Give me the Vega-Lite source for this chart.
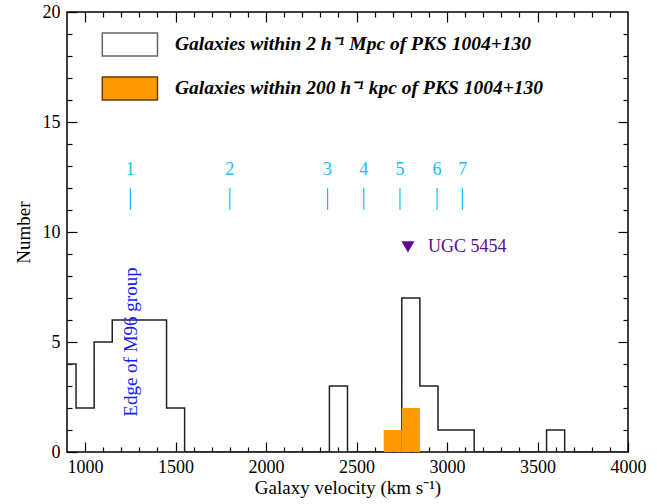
{
  "$schema": "https://vega.github.io/schema/vega-lite/v6.json",
  "width": 561,
  "height": 440,
  "autosize": {"type": "none"},
  "padding": {"left": 67, "top": 12, "right": 29, "bottom": 52},
  "background": "white",
  "config": {
    "font": "Liberation Serif",
    "view": {"stroke": "black", "strokeWidth": 1.5},
    "axis": {"grid": false, "domain": false, "tickColor": "black", "tickWidth": 1.2, "labelFont": "Liberation Serif", "titleFont": "Liberation Serif", "labelColor": "black", "titleColor": "black", "titleFontWeight": "normal", "labelFontSize": 18, "titleFontSize": 19}
  },
  "datasets": {
    "hist": [
      {"bin_start": 850, "count": 4}, {"bin_start": 950, "count": 2}, {"bin_start": 1050, "count": 5},
      {"bin_start": 1150, "count": 6}, {"bin_start": 1250, "count": 6}, {"bin_start": 1350, "count": 6},
      {"bin_start": 1450, "count": 2}, {"bin_start": 1550, "count": 0}, {"bin_start": 1650, "count": 0},
      {"bin_start": 1750, "count": 0}, {"bin_start": 1850, "count": 0}, {"bin_start": 1950, "count": 0},
      {"bin_start": 2050, "count": 0}, {"bin_start": 2150, "count": 0}, {"bin_start": 2250, "count": 0},
      {"bin_start": 2350, "count": 3}, {"bin_start": 2450, "count": 0}, {"bin_start": 2550, "count": 0},
      {"bin_start": 2650, "count": 0}, {"bin_start": 2750, "count": 7}, {"bin_start": 2850, "count": 3},
      {"bin_start": 2950, "count": 1}, {"bin_start": 3050, "count": 1}, {"bin_start": 3150, "count": 0},
      {"bin_start": 3250, "count": 0}, {"bin_start": 3350, "count": 0}, {"bin_start": 3450, "count": 0},
      {"bin_start": 3550, "count": 1}, {"bin_start": 3650, "count": 0}, {"bin_start": 3750, "count": 0},
      {"bin_start": 3850, "count": 0}, {"bin_start": 3950, "count": 0}, {"bin_start": 4050, "count": 0}
    ],
    "near": [
      {"bin_start": 2650, "bin_end": 2750, "count": 1},
      {"bin_start": 2750, "bin_end": 2850, "count": 2}
    ],
    "groups": [
      {"n": "1", "v": 1250}, {"n": "2", "v": 1800}, {"n": "3", "v": 2340},
      {"n": "4", "v": 2540}, {"n": "5", "v": 2740}, {"n": "6", "v": 2945}, {"n": "7", "v": 3085}
    ],
    "legend": [
      {"kind": "wide", "x1": 1095, "x2": 1400, "y1": 18.0, "y2": 19.05, "tx": 1497, "ty": 18.55, "label": "Galaxies within 2 h⁻¹ Mpc of PKS 1004+130"},
      {"kind": "near", "x1": 1095, "x2": 1400, "y1": 16.0, "y2": 17.05, "tx": 1497, "ty": 16.55, "label": "Galaxies within 200 h⁻¹ kpc of PKS 1004+130"}
    ],
    "ugc": [{"v": 2784, "y": 9.32, "label": "UGC 5454"}],
    "edge": [{"v": 1254, "y": 5.0, "label": "Edge of M96 group"}]
  },
  "resolve": {"axis": {"x": "independent", "y": "independent"}},
  "layer": [
    {
      "data": {"name": "hist"},
      "mark": {"type": "line", "interpolate": "step-after", "color": "#222222", "strokeWidth": 1.5, "clip": true},
      "encoding": {
        "x": {"field": "bin_start", "type": "quantitative", "scale": {"domain": [900, 4000], "nice": false, "zero": false},
          "axis": {"orient": "bottom", "title": "Galaxy velocity (km s⁻¹)", "values": [1000,1100,1200,1300,1400,1500,1600,1700,1800,1900,2000,2100,2200,2300,2400,2500,2600,2700,2800,2900,3000,3100,3200,3300,3400,3500,3600,3700,3800,3900,4000],
            "format": "d", "labelExpr": "datum.value % 500 === 0 ? datum.label : ''",
            "tickSize": {"condition": {"test": "datum.value % 500 === 0", "value": -10}, "value": -5},
            "labelPadding": 16, "titlePadding": 2, "labelFlush": false}},
        "y": {"field": "count", "type": "quantitative", "scale": {"domain": [0, 20], "nice": false},
          "axis": {"orient": "left", "title": "Number", "values": [0,1,2,3,4,5,6,7,8,9,10,11,12,13,14,15,16,17,18,19,20],
            "format": "d", "labelExpr": "datum.value % 5 === 0 ? datum.label : ''",
            "tickSize": {"condition": {"test": "datum.value % 5 === 0", "value": -10}, "value": -5},
            "labelPadding": 17, "titlePadding": 9, "labelFlush": false}}
      }
    },
    {
      "data": {"name": "near"},
      "mark": {"type": "rect", "color": "#FF9900"},
      "encoding": {
        "x": {"field": "bin_start", "type": "quantitative",
          "axis": {"orient": "top", "title": null, "labels": false, "values": [1000,1100,1200,1300,1400,1500,1600,1700,1800,1900,2000,2100,2200,2300,2400,2500,2600,2700,2800,2900,3000,3100,3200,3300,3400,3500,3600,3700,3800,3900],
            "tickSize": {"condition": {"test": "datum.value % 500 === 0", "value": -10}, "value": -5}}},
        "x2": {"field": "bin_end"},
        "y": {"field": "count", "type": "quantitative",
          "axis": {"orient": "right", "title": null, "labels": false, "values": [1,2,3,4,5,6,7,8,9,10,11,12,13,14,15,16,17,18,19],
            "tickSize": {"condition": {"test": "datum.value % 5 === 0", "value": -10}, "value": -5}}},
        "y2": {"datum": 0}
      }
    },
    {
      "data": {"name": "groups"},
      "mark": {"type": "rule", "color": "#14BEF5", "strokeWidth": 1.2},
      "encoding": {
        "x": {"field": "v", "type": "quantitative", "axis": null},
        "y": {"datum": 11, "type": "quantitative", "axis": null},
        "y2": {"datum": 12}
      }
    },
    {
      "data": {"name": "groups"},
      "mark": {"type": "text", "color": "#14BEF5", "fontSize": 18, "font": "Liberation Serif", "baseline": "middle", "align": "center"},
      "encoding": {
        "x": {"field": "v", "type": "quantitative", "axis": null},
        "y": {"datum": 12.8, "type": "quantitative", "axis": null},
        "text": {"field": "n"}
      }
    },
    {
      "data": {"name": "ugc"},
      "mark": {"type": "point", "shape": "triangle-down", "filled": true, "color": "#5B0A91", "size": 170, "opacity": 1},
      "encoding": {
        "x": {"field": "v", "type": "quantitative", "axis": null},
        "y": {"field": "y", "type": "quantitative", "axis": null}
      }
    },
    {
      "data": {"name": "ugc"},
      "mark": {"type": "text", "color": "#5B0A91", "fontSize": 18, "font": "Liberation Serif", "baseline": "middle", "align": "left", "dx": 20},
      "encoding": {
        "x": {"field": "v", "type": "quantitative", "axis": null},
        "y": {"field": "y", "type": "quantitative", "axis": null},
        "text": {"field": "label"}
      }
    },
    {
      "data": {"name": "edge"},
      "mark": {"type": "text", "color": "#1A1AFF", "fontSize": 19, "font": "Liberation Serif", "baseline": "middle", "align": "center", "angle": 270},
      "encoding": {
        "x": {"field": "v", "type": "quantitative", "axis": null},
        "y": {"field": "y", "type": "quantitative", "axis": null},
        "text": {"field": "label"}
      }
    },
    {
      "data": {"name": "legend"},
      "mark": {"type": "rect", "strokeWidth": 1.5},
      "encoding": {
        "x": {"field": "x1", "type": "quantitative", "axis": null},
        "x2": {"field": "x2"},
        "y": {"field": "y1", "type": "quantitative", "axis": null},
        "y2": {"field": "y2"},
        "fill": {"field": "kind", "type": "nominal", "scale": {"domain": ["wide", "near"], "range": ["white", "#FF9900"]}, "legend": null},
        "stroke": {"field": "kind", "type": "nominal", "scale": {"domain": ["wide", "near"], "range": ["#666666", "#6B3A00"]}, "legend": null}
      }
    },
    {
      "data": {"name": "legend"},
      "mark": {"type": "text", "color": "black", "fontSize": 19.5, "font": "Liberation Serif", "fontStyle": "italic", "fontWeight": "bold", "baseline": "middle", "align": "left"},
      "encoding": {
        "x": {"field": "tx", "type": "quantitative", "axis": null},
        "y": {"field": "ty", "type": "quantitative", "axis": null},
        "text": {"field": "label"}
      }
    }
  ]
}
